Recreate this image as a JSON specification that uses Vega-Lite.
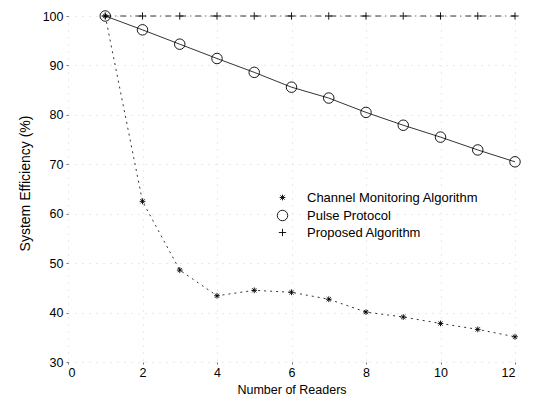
{
  "$schema": "https://vega.github.io/schema/vega-lite/v6.json",
  "autosize": "none",
  "padding": {"left": 68, "top": 16, "right": 19, "bottom": 36},
  "width": 447,
  "height": 346,
  "background": "white",
  "config": {
    "font": "Liberation Sans",
    "view": {"stroke": null},
    "axis": {
      "domain": false,
      "grid": true,
      "gridColor": "#999999",
      "gridDash": [1, 6],
      "gridWidth": 0.7,
      "gridOpacity": 0.6,
      "tickSize": 2,
      "tickColor": "#777777",
      "labelFont": "Liberation Sans",
      "labelFontSize": 12.5,
      "labelColor": "black",
      "titleFont": "Liberation Sans",
      "titleFontWeight": "normal",
      "titleColor": "black"
    }
  },
  "data": {
    "values": [
      {"readers": 1, "eff": 100, "series": "Channel Monitoring Algorithm"},
      {"readers": 2, "eff": 62.5, "series": "Channel Monitoring Algorithm"},
      {"readers": 3, "eff": 48.6, "series": "Channel Monitoring Algorithm"},
      {"readers": 4, "eff": 43.4, "series": "Channel Monitoring Algorithm"},
      {"readers": 5, "eff": 44.5, "series": "Channel Monitoring Algorithm"},
      {"readers": 6, "eff": 44.1, "series": "Channel Monitoring Algorithm"},
      {"readers": 7, "eff": 42.7, "series": "Channel Monitoring Algorithm"},
      {"readers": 8, "eff": 40.1, "series": "Channel Monitoring Algorithm"},
      {"readers": 9, "eff": 39.1, "series": "Channel Monitoring Algorithm"},
      {"readers": 10, "eff": 37.8, "series": "Channel Monitoring Algorithm"},
      {"readers": 11, "eff": 36.6, "series": "Channel Monitoring Algorithm"},
      {"readers": 12, "eff": 35.1, "series": "Channel Monitoring Algorithm"},
      {"readers": 1, "eff": 100, "series": "Pulse Protocol"},
      {"readers": 2, "eff": 97.2, "series": "Pulse Protocol"},
      {"readers": 3, "eff": 94.3, "series": "Pulse Protocol"},
      {"readers": 4, "eff": 91.4, "series": "Pulse Protocol"},
      {"readers": 5, "eff": 88.6, "series": "Pulse Protocol"},
      {"readers": 6, "eff": 85.6, "series": "Pulse Protocol"},
      {"readers": 7, "eff": 83.4, "series": "Pulse Protocol"},
      {"readers": 8, "eff": 80.5, "series": "Pulse Protocol"},
      {"readers": 9, "eff": 77.9, "series": "Pulse Protocol"},
      {"readers": 10, "eff": 75.5, "series": "Pulse Protocol"},
      {"readers": 11, "eff": 72.9, "series": "Pulse Protocol"},
      {"readers": 12, "eff": 70.5, "series": "Pulse Protocol"},
      {"readers": 1, "eff": 100, "series": "Proposed Algorithm"},
      {"readers": 2, "eff": 100, "series": "Proposed Algorithm"},
      {"readers": 3, "eff": 100, "series": "Proposed Algorithm"},
      {"readers": 4, "eff": 100, "series": "Proposed Algorithm"},
      {"readers": 5, "eff": 100, "series": "Proposed Algorithm"},
      {"readers": 6, "eff": 100, "series": "Proposed Algorithm"},
      {"readers": 7, "eff": 100, "series": "Proposed Algorithm"},
      {"readers": 8, "eff": 100, "series": "Proposed Algorithm"},
      {"readers": 9, "eff": 100, "series": "Proposed Algorithm"},
      {"readers": 10, "eff": 100, "series": "Proposed Algorithm"},
      {"readers": 11, "eff": 100, "series": "Proposed Algorithm"},
      {"readers": 12, "eff": 100, "series": "Proposed Algorithm"}
    ]
  },
  "encoding": {
    "x": {
      "field": "readers",
      "type": "quantitative",
      "scale": {"domain": [0, 12], "nice": false, "zero": false},
      "axis": {"title": "Number of Readers", "titleFontSize": 12.5, "values": [0, 2, 4, 6, 8, 10, 12], "labelPadding": 2, "titlePadding": 5}
    },
    "y": {
      "field": "eff",
      "type": "quantitative",
      "scale": {"domain": [30, 100], "nice": false, "zero": false},
      "axis": {"title": "System Efficiency (%)", "titleFontSize": 14, "titleY": 167, "values": [30, 40, 50, 60, 70, 80, 90, 100], "labelPadding": 3, "titlePadding": 10}
    }
  },
  "layer": [
    {
      "transform": [{"filter": "datum.series === 'Channel Monitoring Algorithm'"}],
      "mark": {"type": "line", "color": "black", "strokeWidth": 0.8, "strokeDash": [2, 4]},
      "encoding": {}
    },
    {
      "transform": [{"filter": "datum.series === 'Pulse Protocol'"}],
      "mark": {"type": "line", "color": "black", "strokeWidth": 0.8},
      "encoding": {}
    },
    {
      "transform": [{"filter": "datum.series === 'Proposed Algorithm'"}],
      "mark": {"type": "line", "color": "black", "strokeWidth": 0.8, "strokeDash": [6, 4, 1, 4]},
      "encoding": {}
    },
    {
      "mark": {"type": "point", "filled": false, "color": "black", "strokeWidth": 0.9, "opacity": 1, "size": 110},
      "encoding": {
        "shape": {
          "field": "series",
          "type": "nominal",
          "scale": {
            "domain": ["Channel Monitoring Algorithm", "Pulse Protocol", "Proposed Algorithm"],
            "range": [
              "M-0.55,0L0.55,0M0,-0.55L0,0.55M-0.4,-0.4L0.4,0.4M-0.4,0.4L0.4,-0.4",
              "circle",
              "M-0.7,0L0.7,0M0,-0.7L0,0.7"
            ]
          },
          "legend": {
            "title": null,
            "orient": "none",
            "legendX": 208,
            "legendY": 175,
            "padding": 0,
            "labelFont": "Liberation Sans",
            "labelFontSize": 13,
            "labelLimit": 400,
            "labelColor": "black",
            "labelOffset": 18,
            "rowPadding": 3,
            "symbolSize": 110,
            "symbolStrokeColor": "black",
            "symbolStrokeWidth": 0.9,
            "symbolFillColor": "transparent"
          }
        }
      }
    }
  ]
}
